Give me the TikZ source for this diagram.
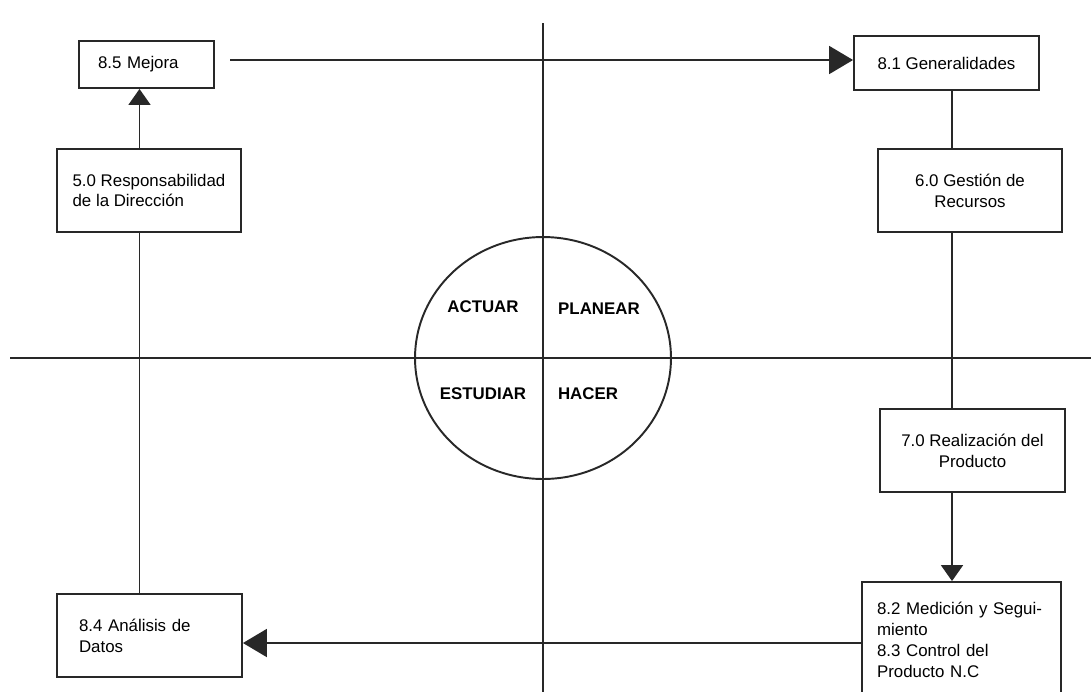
\documentclass[tikz,border=0pt]{standalone}
\usepackage{fontspec}
\setmainfont{Liberation Sans}
\usetikzlibrary{arrows.meta,positioning}
\definecolor{trazo}{RGB}{40,40,40}

\begin{document}
\begin{tikzpicture}[x=0.02cm, y=-0.02cm, line width=1.1pt, draw=trazo,
  caja/.style={draw=trazo, fill=white, inner ysep=2pt,
    font=\fontsize{9.6}{11.9}\selectfont},
  fase/.style={font=\fontsize{9.6}{11.5}\selectfont\bfseries},
  arrh/.style={-{Triangle[length=0.48cm,width=0.56cm]}},
  arrv/.style={-{Triangle[length=0.32cm,width=0.44cm]}}]
\useasboundingbox (0,0) rectangle (1091,691);
\fill[white] (0,0) rectangle (1091,691);
\clip (0,0) rectangle (1091,691);
%% ---- ejes y ciclo ----
\draw (543,23) -- (543,700);
\draw (10,358) -- (1100,358);
\draw (543,358) ellipse [x radius=2.56cm, y radius=2.42cm];
\node[fase] (actuar)   at (483,307) {ACTUAR};
\node[fase] (planear)  at (599,309) {PLANEAR};
\node[fase] (estudiar) at (483,394) {ESTUDIAR};
\node[fase] (hacer)    at (588,394) {HACER};
%% ---- cajas ----
\node[caja, minimum width=2.70cm, minimum height=0.94cm, text width=1.94cm,
  inner xsep=0.38cm, align=left] (mejora) at (146.5,64.5) {8.5 Mejora};
\node[caja, minimum width=3.70cm, minimum height=1.08cm, align=center]
  (general) at (946.5,63) {8.1 Generalidades};
\node[caja, minimum width=3.68cm, minimum height=1.66cm, align=left]
  (respon) at (149,190.5) {5.0 Responsabilidad\\de la Dirección};
\node[caja, minimum width=3.68cm, minimum height=1.66cm, align=center]
  (gestion) at (970,190.5) {6.0 Gestión de\\Recursos};
\node[caja, minimum width=3.70cm, minimum height=1.66cm, align=center]
  (realiz) at (972.5,450.5) {7.0 Realización del\\Producto};
\node[caja, minimum width=3.98cm, minimum height=2.30cm, text width=3.38cm,
  inner xsep=0.30cm, align=left] (medicion) at (961.5,639.5)
  {8.2 Medición y Segui-\\miento\\8.3 Control del\\Producto N.C};
\node[caja, minimum width=3.70cm, minimum height=1.66cm, text width=2.82cm,
  inner xsep=0.44cm, align=left] (datos) at (149.5,635.5) {8.4 Análisis de\\Datos};
%% ---- conexiones ----
\coordinate (ejeder) at (952,0);
\coordinate (ejeizq) at (139.5,0);
\coordinate (filainf) at (0,643);
\coordinate (salida) at (230,60);
\draw[arrh] (salida) -- (salida -| general.west);
\draw (general.south -| ejeder) -- (gestion.north -| ejeder);
\draw (gestion.south -| ejeder) -- (realiz.north -| ejeder);
\draw[arrv] (realiz.south -| ejeder) -- (medicion.north -| ejeder);
\draw[arrh] (medicion.west |- filainf) -- (datos.east |- filainf);
\draw (datos.north -| ejeizq) -- (respon.south -| ejeizq);
\draw[arrv] (respon.north -| ejeizq) -- (mejora.south -| ejeizq);
\end{tikzpicture}
\end{document}
